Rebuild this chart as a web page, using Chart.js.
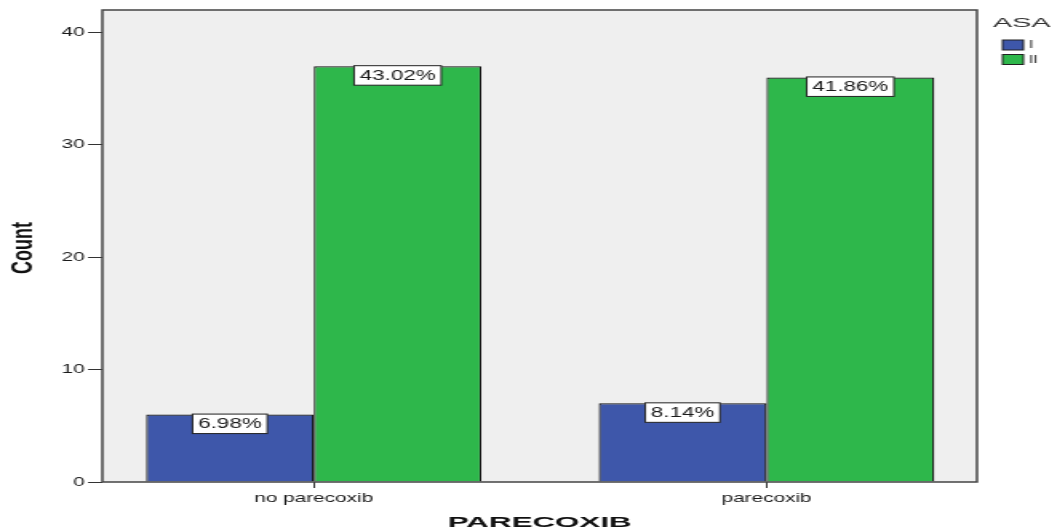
<!DOCTYPE html>
<html>
<head>
<meta charset="utf-8">
<script src="https://cdn.jsdelivr.net/npm/chart.js@4"></script>
<style>
  html, body { margin: 0; padding: 0; background: #fff; overflow: hidden; }
  /* the reference is horizontally stretched, so draw narrow and stretch */
  #wrap { width: 661px; height: 531px; transform: scaleX(1.599); transform-origin: 0 0; }
</style>
</head>
<body>
<div id="wrap"><canvas id="chart" width="661" height="531"></canvas></div>
<script>
// data
const categories = ['no parecoxib', 'parecoxib'];
const asaLabels = ['I', 'II'];
const countI = [6, 7];
const countII = [37, 36];
const yTicks = [0, 10, 20, 30, 40];

const BLUE = '#3e57aa';
const GREEN = '#2eb74b';
const FONT = "'Liberation Sans', Arial, sans-serif";

const total = countI.concat(countII).reduce((a, b) => a + b, 0);

function toPoints(arr) {
  return arr.map((v, i) => ({ x: i, y: v }));
}

// grey plot background + frame
const plotFrame = {
  id: 'plotFrame',
  beforeDatasetsDraw(chart) {
    const a = chart.chartArea, ctx = chart.ctx;
    ctx.save();
    ctx.fillStyle = '#efefef';
    ctx.fillRect(a.left, a.top, a.right - a.left, a.bottom - a.top);
    ctx.restore();
  },
  afterDatasetsDraw(chart) {
    const a = chart.chartArea, ctx = chart.ctx;
    ctx.save();
    ctx.strokeStyle = '#444';
    ctx.lineWidth = 1.5;
    ctx.strokeRect(a.left, a.top, a.right - a.left, a.bottom - a.top);
    ctx.restore();
  }
};

// percentage boxes at the top of each bar
const pctBoxes = {
  id: 'pctBoxes',
  afterDatasetsDraw(chart) {
    const ctx = chart.ctx;
    ctx.save();
    ctx.font = '14px ' + FONT;
    ctx.textAlign = 'center';
    ctx.textBaseline = 'middle';
    chart.data.datasets.forEach((ds, i) => {
      chart.getDatasetMeta(i).data.forEach((el, j) => {
        const txt = (ds.data[j].y / total * 100).toFixed(2) + '%';
        const w = ctx.measureText(txt).width + 7;
        const h = 19.5;
        const top = el.y - 0.5;
        ctx.fillStyle = '#fff';
        ctx.fillRect(el.x - w / 2, top, w, h);
        ctx.strokeStyle = '#222';
        ctx.lineWidth = 1;
        ctx.strokeRect(el.x - w / 2, top, w, h);
        ctx.fillStyle = '#1a1a1a';
        ctx.fillText(txt, el.x, top + h / 2 + 0.5);
      });
    });
    ctx.restore();
  }
};

// axis titles and legend, drawn by hand
const extras = {
  id: 'extras',
  afterDraw(chart) {
    const ctx = chart.ctx, a = chart.chartArea;
    ctx.save();
    ctx.fillStyle = '#111';

    // x title, fitted to the reference's width
    ctx.font = 'bold 14px ' + FONT;
    ctx.textAlign = 'center';
    ctx.textBaseline = 'alphabetic';
    let t = 'PARECOXIB';
    let sx = 115 / ctx.measureText(t).width;
    ctx.save();
    ctx.translate((a.left + a.right) / 2, 527);
    ctx.scale(sx, 1);
    ctx.fillText(t, 0, 0);
    ctx.restore();

    // y title
    ctx.save();
    ctx.translate(15, 248);
    ctx.rotate(-Math.PI / 2);
    ctx.font = 'bold 18px ' + FONT;
    ctx.textBaseline = 'middle';
    ctx.fillText('Count', 0, 0);
    ctx.restore();

    // legend
    ctx.fillStyle = '#333';
    ctx.font = '12.5px ' + FONT;
    ctx.textAlign = 'left';
    t = 'ASA';
    sx = 36 / ctx.measureText(t).width;
    ctx.save();
    ctx.translate(621, 27);
    ctx.scale(sx, 1);
    ctx.fillText(t, 0, 0);
    ctx.restore();

    chart.data.datasets.forEach((ds, i) => {
      const y = 40 + i * 14.5;
      ctx.fillStyle = ds.backgroundColor;
      ctx.fillRect(627, y, 13, 10);
      ctx.strokeStyle = '#222';
      ctx.lineWidth = 1;
      ctx.strokeRect(627, y, 13, 10);
      ctx.fillStyle = '#222';
      ctx.font = '10px ' + FONT;
      ctx.textBaseline = 'middle';
      ctx.fillText(ds.label, 643.5, y + 5.5);
    });
    ctx.restore();
  }
};

new Chart(document.getElementById('chart'), {
  type: 'bar',
  data: {
    datasets: [
      { label: asaLabels[0], data: toPoints(countI), backgroundColor: BLUE,
        borderColor: '#151515', borderWidth: 1.2 },
      { label: asaLabels[1], data: toPoints(countII), backgroundColor: GREEN,
        borderColor: '#151515', borderWidth: 1.2 }
    ]
  },
  options: {
    responsive: false,
    animation: false,
    layout: { padding: { top: 10, right: 50, left: 0, bottom: 0 } },
    categoryPercentage: 0.741,
    barPercentage: 1,
    plugins: { legend: { display: false }, tooltip: { enabled: false } },
    scales: {
      x: {
        type: 'linear',
        min: -0.467,
        max: 1.465,
        offset: false,
        grid: { offset: false, drawOnChartArea: false, drawTicks: true, tickLength: 6, color: '#333' },
        border: { display: false },
        ticks: {
          stepSize: 1,
          includeBounds: false,
          padding: 3,
          maxRotation: 0,
          color: '#1a1a1a',
          font: { family: FONT, size: 13 },
          callback: (v) => (Number.isInteger(v) && categories[v] !== undefined) ? categories[v] : ''
        },
        afterFit: (s) => { s.height = 49; }
      },
      y: {
        min: 0,
        max: 42,
        grid: { drawOnChartArea: false, drawTicks: true, tickLength: 9, color: '#333' },
        border: { display: false },
        afterBuildTicks: (s) => { s.ticks = yTicks.map(v => ({ value: v })); },
        ticks: {
          padding: 2,
          color: '#1a1a1a',
          font: { family: FONT, size: 13 }
        },
        afterFit: (s) => { s.width = 64; }
      }
    }
  },
  plugins: [plotFrame, pctBoxes, extras]
});
</script>
</body>
</html>
